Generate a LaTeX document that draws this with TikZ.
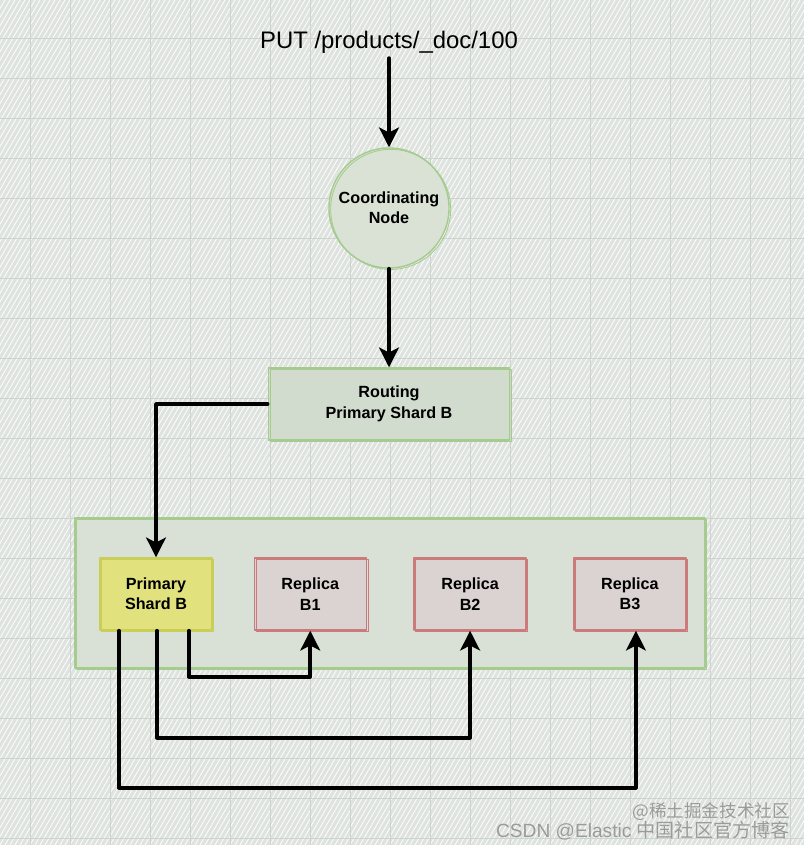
\documentclass[tikz,border=0pt]{standalone}
\usepackage{fontspec}
\setmainfont{Liberation Sans}
\newfontfamily\cjkfont{Noto Sans CJK SC}
\usetikzlibrary{arrows.meta,calc,positioning}
\definecolor{paper}{HTML}{DFE3DF}
\definecolor{gridline}{HTML}{CDD3CD}
\definecolor{nodegreen}{HTML}{DAE2D6}
\definecolor{routegreen}{HTML}{D1DBCE}
\definecolor{clustergreen}{HTML}{D9E1D6}
\definecolor{edgegreen}{HTML}{A5CB8E}
\definecolor{primfill}{HTML}{E1E27D}
\definecolor{primedge}{HTML}{C8CE58}
\definecolor{replfill}{HTML}{DAD3D1}
\definecolor{repledge}{HTML}{CB7B7B}
\definecolor{wmgrey}{HTML}{9A9C9A}
\tikzset{
 flow/.style={line width=2.6pt,black,-{Stealth[length=14pt,width=14pt,inset=3.5pt]}},
 label font/.style={font=\fontsize{11.5}{14.5}\selectfont\bfseries,align=center},
 sketch/.style={postaction={draw=#1,line width=0.6pt,transform canvas={shift={(1.2pt,-1pt)}}}},
 coordnode/.style={circle,draw=edgegreen,fill=nodegreen,line width=1pt,minimum size=3cm,label font,sketch=edgegreen},
 routebox/.style={draw=edgegreen,fill=routegreen,line width=1pt,minimum width=6.03cm,minimum height=1.8cm,label font,sketch=edgegreen},
 clusterbox/.style={draw=edgegreen,fill=clustergreen,line width=1pt,minimum width=15.75cm,minimum height=3.75cm,sketch=edgegreen},
 primbox/.style={draw=primedge,fill=primfill,line width=1pt,minimum width=2.8cm,minimum height=1.8cm,label font,sketch=primedge},
 replbox/.style={draw=repledge,fill=replfill,line width=1pt,minimum width=2.8cm,minimum height=1.8cm,label font,sketch=repledge},
 watermark/.style={text=wmgrey,anchor=east,inner sep=0pt}
}
\begin{document}
\begin{tikzpicture}[x=0.025cm,y=-0.025cm,line cap=round,line join=round]
\useasboundingbox (0,0) rectangle (804,845);
% Background paper: hatching and grid
\fill[paper] (0,0) rectangle (804,845);
\begin{scope}
 \clip (0,0) rectangle (804,845);
 \foreach \x in {-500,-495,...,810}
  \draw[white,line width=0.6pt,opacity=0.9] (\x,845) -- ++(490,-845);
 \foreach \x in {30,70,...,790}
  \draw[gridline,line width=0.5pt] (\x,0) -- (\x,845);
 \foreach \y in {38,78,...,838}
  \draw[gridline,line width=0.5pt] (0,\y) -- (804,\y);
\end{scope}
% Request and coordinating node
\node[font=\fontsize{17}{20}\selectfont] (req) at (389,42) {PUT /products/\_doc/100};
\node[coordnode] (coord) at (389,208) {Coordinating\\Node};
\node[routebox] (route) at (389,404) {Routing\\Primary Shard B};
% Shard group
\node[clusterbox] (cluster) at (390,593) {};
\node[primbox] (prim) at (156,594) {Primary\\Shard B};
\node[replbox,right=1.02cm of prim] (rep1) {Replica\\B1};
\node[replbox,right=1.16cm of rep1] (rep2) {Replica\\B2};
\node[replbox,right=1.16cm of rep2] (rep3) {Replica\\B3};
% Request path
\draw[flow] (req.south) -- (coord.north);
\draw[flow] (coord.south) -- (route.north);
\draw[flow] (route.west) -| (prim.north);
% Replication from the primary
\draw[flow] ($(prim.south)+(33,0)$) -- ++(0,46) -| (rep1.south);
\draw[flow] ($(prim.south)+(1,0)$) -- ++(0,107) -| (rep2.south);
\draw[flow] ($(prim.south)+(-37,0)$) -- ++(0,157) -| ($(rep3.south)+(6,0)$);
% Watermark
\node[watermark,font=\cjkfont\fontsize{12.5}{14}\selectfont] (wmtop) at (790,812) {@稀土掘金技术社区};
\node[watermark,font=\fontsize{13.6}{16}\selectfont] (wmbottom) at (790,831)
 {CSDN @Elastic {\cjkfont 中国社区官方博客}};
\end{tikzpicture}
\end{document}
